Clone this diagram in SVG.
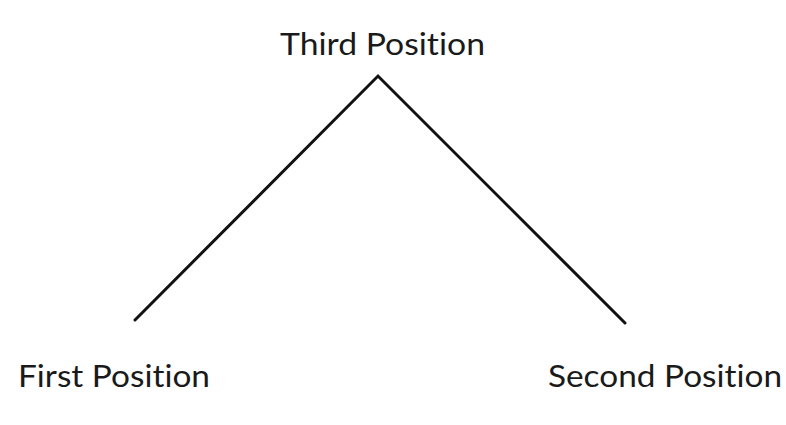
<svg xmlns="http://www.w3.org/2000/svg" width="786" height="425" viewBox="0 0 786 425">
<style>
.lbl{font-family:Lato,"Open Sans","Liberation Sans",sans-serif;font-size:31px;fill:#1a1a1a;font-variant-ligatures:none;font-feature-settings:"liga" 0}
.con{stroke:#111;stroke-width:3;fill:none;stroke-linecap:round;stroke-linejoin:miter}
</style>
<rect width="786" height="425" fill="#fff"/>
<g id="connectors">
<polyline class="con" points="135,320 378,76 625,323"/>
</g>
<g id="third"><text class="lbl" x="280" y="55" textLength="205" lengthAdjust="spacingAndGlyphs">Third Position</text></g>
<g id="first"><text class="lbl" x="18" y="387" textLength="192" lengthAdjust="spacingAndGlyphs">First Position</text></g>
<g id="second"><text class="lbl" x="548" y="387" textLength="234" lengthAdjust="spacingAndGlyphs">Second Position</text></g>
</svg>
